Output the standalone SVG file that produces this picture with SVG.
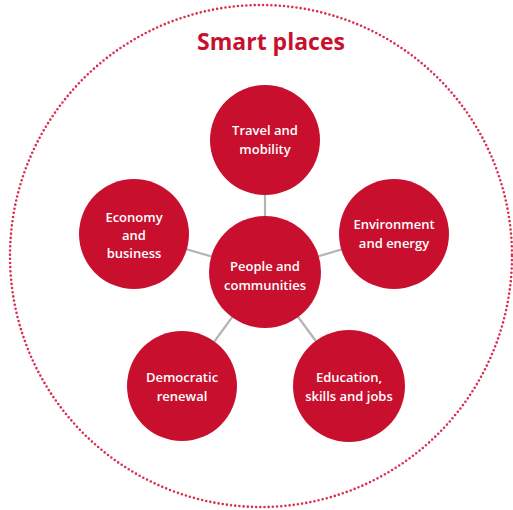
<svg xmlns="http://www.w3.org/2000/svg" width="513" height="510" viewBox="0 0 513 510">
  <style>
    .node { fill: #c8102e; }
    .label { fill: #ffffff; font-family: "Open Sans", "Liberation Sans", sans-serif; font-size: 13px; font-weight: 600; text-anchor: middle; }
    .link { stroke: #b4b4b4; stroke-width: 2.2; }
    .title { fill: #c8102e; font-family: "Open Sans", "Liberation Sans", sans-serif; font-size: 23px; font-weight: 700; text-anchor: middle; }
  </style>
  <rect width="513" height="510" fill="#ffffff"/>
  <!-- dotted outer boundary -->
  <circle cx="261" cy="256" r="251" fill="none" stroke="#d9304f" stroke-width="2.6" stroke-linecap="round" stroke-dasharray="0 4.2"/>
  <text class="title" x="271" y="50">Smart places</text>

  <g id="connectors">
    <line class="link" x1="265" y1="272" x2="265" y2="140"/>
    <line class="link" x1="265" y1="272" x2="394" y2="234"/>
    <line class="link" x1="265" y1="272" x2="134" y2="234"/>
    <line class="link" x1="265" y1="272" x2="182" y2="386"/>
    <line class="link" x1="265" y1="272" x2="349" y2="386"/>
  </g>

  <g id="travel">
    <circle class="node" cx="265" cy="140" r="55"/>
    <text class="label" x="265" y="135">Travel and</text>
    <text class="label" x="265" y="154">mobility</text>
  </g>
  <g id="environment">
    <circle class="node" cx="394" cy="234" r="55"/>
    <text class="label" x="394" y="229">Environment</text>
    <text class="label" x="394" y="248">and energy</text>
  </g>
  <g id="economy">
    <circle class="node" cx="134" cy="234" r="55"/>
    <text class="label" x="134" y="222">Economy</text>
    <text class="label" x="134" y="240">and</text>
    <text class="label" x="134" y="258">business</text>
  </g>
  <g id="people">
    <circle class="node" cx="265" cy="272" r="56"/>
    <text class="label" x="265" y="271">People and</text>
    <text class="label" x="265" y="290">communities</text>
  </g>
  <g id="democratic">
    <circle class="node" cx="182" cy="386" r="55"/>
    <text class="label" x="182" y="382">Democratic</text>
    <text class="label" x="182" y="401">renewal</text>
  </g>
  <g id="education">
    <circle class="node" cx="349" cy="386" r="56"/>
    <text class="label" x="349" y="382">Education,</text>
    <text class="label" x="349" y="401">skills and jobs</text>
  </g>
</svg>
